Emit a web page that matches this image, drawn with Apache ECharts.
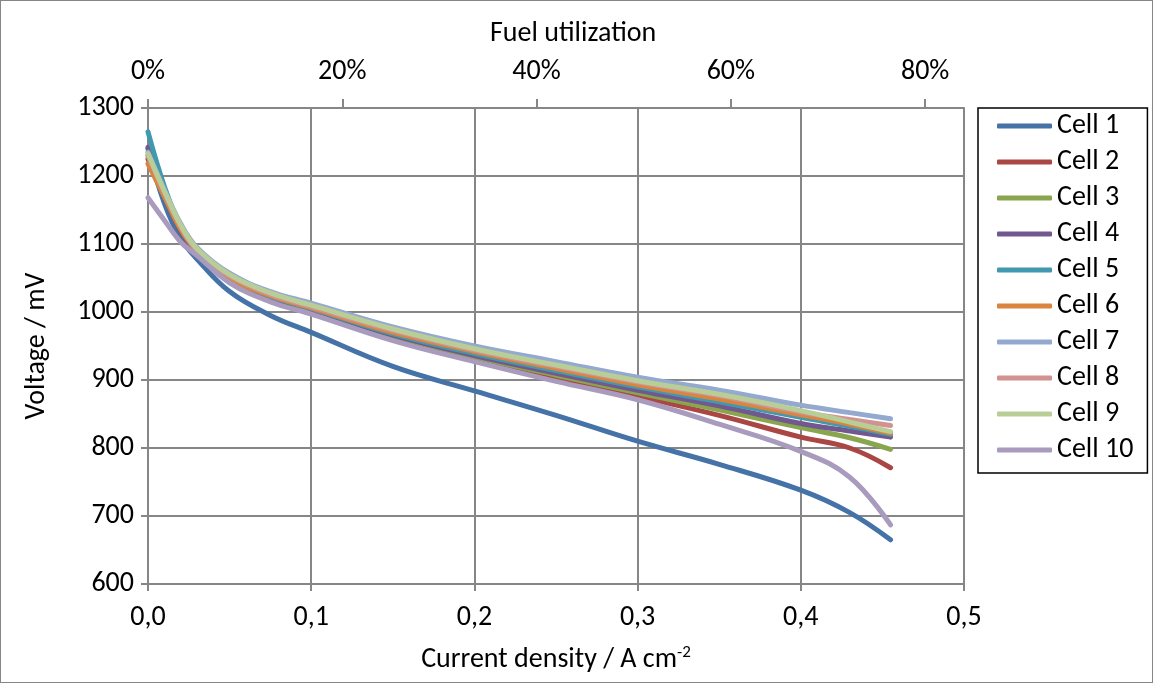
<html>
    <head>
        <meta charset="utf-8">
        <script src="https://cdn.jsdelivr.net/npm/echarts@6/dist/echarts.min.js"></script>
    </head>
    <body>
        <style>
            html, body, #main {
                width: 100%;
                height: 100%;
                margin: 0;
            }
            #main { box-sizing: border-box; border: 1px solid #868686; }
        </style>
        <div id='main'></div>
        <script>
            // current density, A cm-2
            var current = [0, 0.01, 0.02, 0.03, 0.05, 0.075, 0.1, 0.15, 0.2, 0.25, 0.3, 0.35, 0.4, 0.43, 0.455];

            var cell1  = [1240, 1160, 1108, 1078, 1030, 995, 970, 920, 884, 848, 810, 776, 738, 705, 665];
            var cell2  = [1225, 1172, 1120, 1087, 1047, 1019, 1000, 962, 931, 903, 876, 848, 816, 800, 771];
            var cell3  = [1230, 1175, 1122, 1088, 1048, 1020, 1002, 965, 934, 907, 881, 856, 830, 815, 798];
            var cell4  = [1242, 1178, 1122, 1088, 1048, 1021, 1003, 966, 936, 910, 885, 862, 836, 825, 816];
            var cell5  = [1265, 1185, 1125, 1090, 1050, 1023, 1005, 968, 939, 914, 890, 868, 845, 832, 820];
            var cell6  = [1218, 1170, 1122, 1090, 1050, 1024, 1006, 970, 942, 917, 893, 872, 849, 835, 822];
            var cell7  = [1235, 1180, 1130, 1095, 1057, 1030, 1013, 978, 950, 927, 904, 885, 863, 852, 843];
            var cell8  = [1230, 1176, 1126, 1091, 1053, 1026, 1008, 973, 944, 920, 897, 877, 853, 842, 833];
            var cell9  = [1233, 1178, 1128, 1093, 1055, 1028, 1010, 975, 946, 922, 899, 879, 855, 838, 824];
            var cell10 = [1168, 1135, 1103, 1083, 1043, 1015, 997, 958, 927, 898, 871, 835, 795, 757, 687];

            var names = ['Cell 1', 'Cell 2', 'Cell 3', 'Cell 4', 'Cell 5', 'Cell 6', 'Cell 7', 'Cell 8', 'Cell 9', 'Cell 10'];
            var cells = [cell1, cell2, cell3, cell4, cell5, cell6, cell7, cell8, cell9, cell10];
            var colors = ['#4572A7', '#AA4643', '#89A54E', '#71588F', '#4198AF', '#DB843D', '#93A9CF', '#D19392', '#B9CD96', '#A99BBD'];

            var font = "Carlito, 'Liberation Sans', sans-serif";
            var fs = 28;
            var gray = '#868686';

            var chart = echarts.init(document.getElementById('main'));
            var option = {
                animation: false,
                color: colors,
                textStyle: { fontFamily: font, color: '#000' },
                grid: { left: 147, right: 188, top: 107, bottom: 98 },
                graphic: [{
                    type: 'text', left: 489, top: 19,
                    style: { text: 'Fuel utilization', font: fs + 'px ' + font, fill: '#000' }
                }],
                legend: {
                    orient: 'vertical',
                    left: 977, top: 107,
                    padding: [4, 14, 9, 19],
                    itemGap: 8,
                    itemWidth: 55, itemHeight: 5,
                    icon: 'roundRect',
                    borderColor: '#000', borderWidth: 1.5,
                    textStyle: { fontSize: fs, lineHeight: 28, fontFamily: font, color: '#000' },
                    data: names
                },
                xAxis: [{
                    type: 'value', min: 0, max: 0.5, interval: 0.1,
                    position: 'bottom',
                    name: 'Current density / A cm{sup|-2}',
                    nameLocation: 'middle', nameGap: 76,
                    nameTextStyle: { fontSize: fs, fontFamily: font, color: '#000', verticalAlign: 'middle',
                        rich: { sup: { fontSize: 17, verticalAlign: 'top', padding: [0, 0, 14, 0], fontFamily: font } } },
                    axisLine: { lineStyle: { color: gray, width: 2 } },
                    axisTick: { show: true, length: 7, lineStyle: { color: gray, width: 2 } },
                    splitLine: { show: true, lineStyle: { color: gray, width: 2 } },
                    axisLabel: { fontSize: fs, color: '#000', margin: 20,
                        formatter: function (v) { return v.toFixed(1).replace('.', ','); } }
                }, {
                    type: 'value', min: 0, max: 84, interval: 20,
                    position: 'top',
                    axisLine: { show: true, lineStyle: { color: gray, width: 2 } },
                    axisTick: { show: true, length: 9, lineStyle: { color: gray, width: 2 } },
                    splitLine: { show: false },
                    axisLabel: { fontSize: fs, color: '#000', margin: 22, showMaxLabel: false,
                        formatter: function (v) { return v + '%'; } }
                }],
                yAxis: {
                    type: 'value', min: 600, max: 1300, interval: 100,
                    name: 'Voltage / mV',
                    nameLocation: 'middle', nameGap: 111,
                    nameTextStyle: { fontSize: fs, fontFamily: font, color: '#000', verticalAlign: 'middle' },
                    axisLine: { show: true, lineStyle: { color: gray, width: 2 } },
                    axisTick: { show: true, length: 7, lineStyle: { color: gray, width: 2 } },
                    splitLine: { show: true, lineStyle: { color: gray, width: 2 } },
                    axisLabel: { fontSize: fs, color: '#000', margin: 14,
                        formatter: function (v) { return String(v); } }
                },
                series: cells.map(function (vals, i) {
                    return {
                        name: names[i],
                        type: 'line',
                        xAxisIndex: 0,
                        smooth: 0.4,
                        symbol: 'none',
                        lineStyle: { width: 5, color: colors[i], cap: 'round' },
                        data: vals.map(function (v, k) { return [current[k], v]; })
                    };
                })
            };
            chart.setOption(option);
            window.onresize = chart.resize;
        </script>
    </body>
</html>
